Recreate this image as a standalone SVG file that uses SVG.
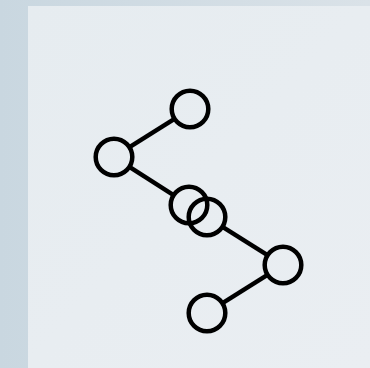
<svg xmlns="http://www.w3.org/2000/svg" width="370" height="368" viewBox="0 0 370 368">
<defs>
<linearGradient id="bg" x1="0" y1="0" x2="1" y2="0">
<stop offset="0" stop-color="#c9d7e0"/>
<stop offset="1" stop-color="#dae2e8"/>
</linearGradient>
<linearGradient id="panel" x1="0" y1="0" x2="1" y2="1">
<stop offset="0" stop-color="#e6ecf0"/>
<stop offset="1" stop-color="#eaeef2"/>
</linearGradient>
<style>
.node circle{fill:none;stroke:#000;stroke-width:4.5}
.edges line{stroke:#000;stroke-width:4.5}
</style>
</defs>
<rect x="0" y="0" width="370" height="368" fill="url(#bg)"/>
<rect x="28" y="6" width="342" height="362" fill="url(#panel)"/>
<g id="connectors" class="edges">
<line x1="174.5" y1="118.8" x2="129.5" y2="147.2"/>
<line x1="129.4" y1="166.9" x2="173.6" y2="195.1"/>
<line x1="222.5" y1="226.8" x2="267.5" y2="255.2"/>
<line x1="267.5" y1="274.8" x2="222.5" y2="303.2"/>
</g>
<g id="n1" class="node"><circle cx="190" cy="109" r="18.3"/></g>
<g id="n2" class="node"><circle cx="114" cy="157" r="18.3"/></g>
<g id="n3" class="node"><circle cx="189" cy="205" r="18.3"/></g>
<g id="n4" class="node"><circle cx="207" cy="217" r="18.3"/></g>
<g id="n5" class="node"><circle cx="283" cy="265" r="18.3"/></g>
<g id="n6" class="node"><circle cx="207" cy="313" r="18.3"/></g>
</svg>
